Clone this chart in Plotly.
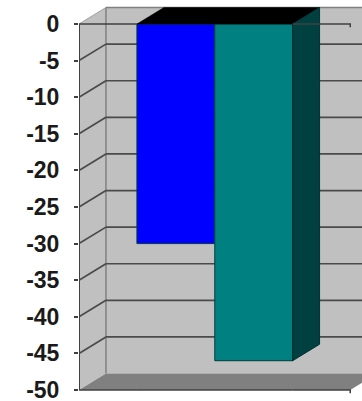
import plotly.graph_objects as go

# Values and axis scale
categories = [0, 1]
values = [-30, -46]
front_colors = ["#0000ff", "#008080"]
side_colors = ["#000080", "#004040"]
tick_values = [0, -5, -10, -15, -20, -25, -30, -35, -40, -45, -50]
tick_labels = ["0", "-5", "-10", "-15", "-20", "-25", "-30", "-35", "-40", "-45", "-50"]

# Extents of the pseudo-3D box in data units
bar_width = 1.0
depth_x = 0.346
depth_y = 2.25
box_left = -1.244
box_right = 2.24
y_top = 0
y_bottom = -50

WALL = "#c0c0c0"
FLOOR = "#808080"
EDGE = "#808080"
GRID = "#4a4a4a"


def poly(xs, ys, fill, line_color=None, line_width=0):
    path = "M " + " L ".join(f"{x},{y}" for x, y in zip(xs, ys)) + " Z"
    return dict(type="path", path=path, xref="x", yref="y", fillcolor=fill,
                layer="below", line=dict(color=line_color or fill, width=line_width))


def seg(x0, y0, x1, y1, color, width):
    return dict(type="line", x0=x0, y0=y0, x1=x1, y1=y1, xref="x", yref="y",
                layer="below", line=dict(color=color, width=width))


bx0 = box_left + depth_x
bx1 = box_right + depth_x
by0 = y_bottom + depth_y
by1 = y_top + depth_y

shapes = [
    # back wall, side wall and floor
    poly([bx0, bx1, bx1, bx0], [by0, by0, by1, by1], WALL),
    poly([box_left, bx0, bx0, box_left], [y_bottom, by0, by1, y_top], WALL),
    poly([box_left, box_right, bx1, bx0], [y_bottom, y_bottom, by0, by0], FLOOR),
    # box edges
    seg(bx0, by0, bx0, by1, EDGE, 1.5),
    seg(bx0, by1, bx1, by1, EDGE, 1.5),
    seg(box_left, y_top, bx0, by1, "#a0a0a0", 1),
]
# gridlines run along the side wall and then across the back wall
for t in tick_values[1:-1]:
    shapes.append(seg(box_left, t, bx0, t + depth_y, GRID, 1.7))
    shapes.append(seg(bx0, t + depth_y, bx1, t + depth_y, GRID, 1.7))
shapes.append(seg(box_left, y_top, box_left, y_bottom, "#404040", 2))

fig = go.Figure()

for x, v, c in zip(categories, values, front_colors):
    fig.add_trace(go.Bar(x=[x], y=[v], width=bar_width,
                         marker=dict(color=c, line=dict(color="#003c3c", width=1))))

# top faces of the bars
x_l = categories[0] - bar_width / 2
x_r = categories[-1] + bar_width / 2
fig.add_trace(go.Scatter(
    x=[x_l, x_r, x_r + depth_x, x_l + depth_x, x_l],
    y=[0, 0, depth_y, depth_y, 0],
    mode="lines", fill="toself", fillcolor="#000000", line=dict(color="#000000", width=0.5)))

# side face of the last bar
fig.add_trace(go.Scatter(
    x=[x_r, x_r + depth_x, x_r + depth_x, x_r, x_r],
    y=[0, depth_y, values[-1] + depth_y, values[-1], 0],
    mode="lines", fill="toself", fillcolor=side_colors[-1], line=dict(color="#003030", width=1)))

# front rim of the box: category axis at zero and along the base
for y, tick in ((y_top, -0.45), (y_bottom, -0.45)):
    fig.add_trace(go.Scatter(x=[box_left, x_l], y=[y, y], mode="lines", line=dict(color="#404040", width=1.5)))
    fig.add_trace(go.Scatter(x=[x_r, box_right, box_right], y=[y, y, y + tick], mode="lines",
                             line=dict(color="#404040", width=1.5)))
fig.add_trace(go.Scatter(x=[x_l, x_r], y=[y_bottom, y_bottom], mode="lines", line=dict(color="#404040", width=1.5)))

fig.update_layout(
    width=362, height=401,
    margin=dict(l=78.5, r=0, t=0, b=0),
    paper_bgcolor="#ffffff", plot_bgcolor="#ffffff",
    showlegend=False, barmode="overlay",
    shapes=shapes,
    xaxis=dict(range=[box_left, 2.391], visible=False, fixedrange=True, automargin=False),
    yaxis=dict(range=[-51.503, 3.279], tickvals=tick_values, ticktext=tick_labels, automargin=False,
               ticks="outside", ticklen=4, tickwidth=1.5, tickcolor="#404040",
               showgrid=False, zeroline=False, showline=False, ticklabelstandoff=10,
               ticklabeloverflow="allow",
               tickfont=dict(family="Liberation Sans", size=23, color="#1a1a1a", weight="bold")),
)

fig.write_html("out.html", config=dict(displayModeBar=False))
